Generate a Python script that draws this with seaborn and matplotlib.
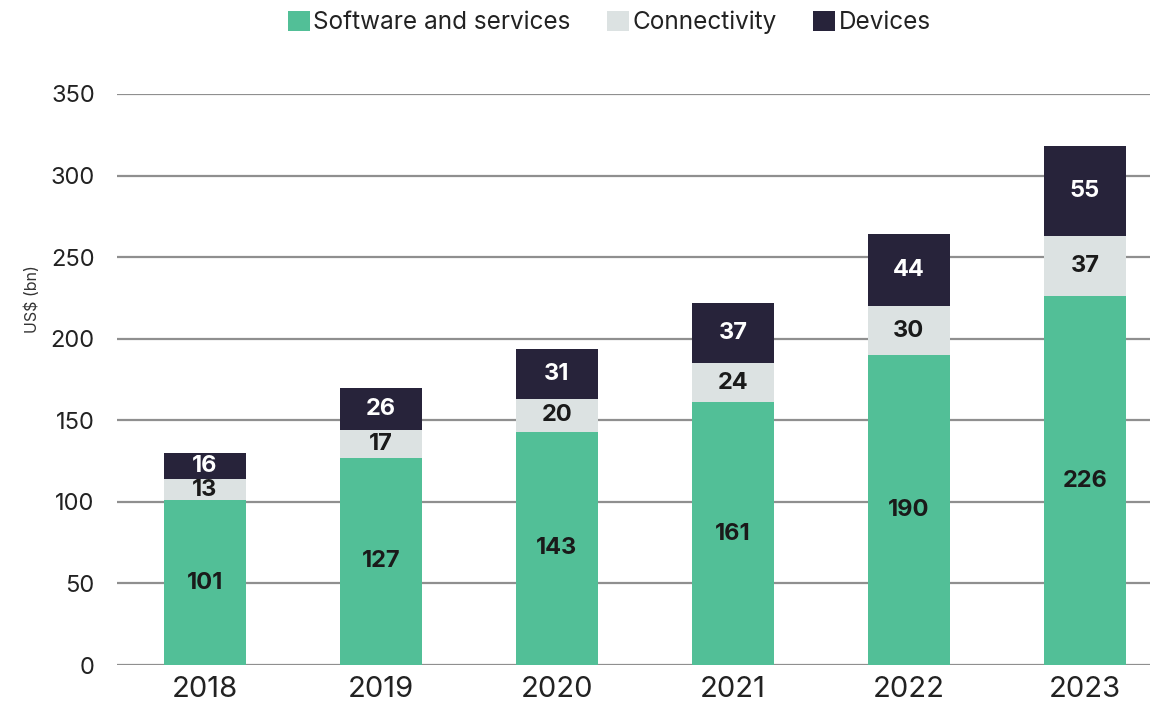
import matplotlib
matplotlib.use("Agg")
import matplotlib.pyplot as plt
import seaborn as sns
import pandas as pd
import numpy as np
from matplotlib.patches import Patch

years = ["2018", "2019", "2020", "2021", "2022", "2023"]
software = [101, 127, 143, 161, 190, 226]
connectivity = [13, 17, 20, 24, 30, 37]
devices = [16, 26, 31, 37, 44, 55]

series_names = ["Software and services", "Connectivity", "Devices"]
colors = {"Software and services": "#52BF97", "Connectivity": "#DCE2E2", "Devices": "#27233A"}
text_colors = {"Software and services": "#1a1a1a", "Connectivity": "#1a1a1a", "Devices": "#ffffff"}

sns.set_theme(style="white")
plt.rcParams["font.family"] = ["Inter", "DejaVu Sans"]

fig = plt.figure(figsize=(11.63, 7.02), dpi=100)
ax = fig.add_axes([117/1163, 1-665/702, (1150-117)/1163, (665-94)/702])

soft = np.array(software)
conn = np.array(connectivity)
dev = np.array(devices)
cum = {
    "Devices": soft + conn + dev,
    "Connectivity": soft + conn,
    "Software and services": soft,
}
values = {"Software and services": soft, "Connectivity": conn, "Devices": dev}
bottoms = {"Software and services": np.zeros(6), "Connectivity": soft, "Devices": soft + conn}

for name in ["Devices", "Connectivity", "Software and services"]:
    df = pd.DataFrame({"year": years, "value": cum[name]})
    sns.barplot(data=df, x="year", y="value", color=colors[name], width=0.465,
                saturation=1, ax=ax, zorder=2, edgecolor="none", linewidth=0)

for name in series_names:
    for i in range(len(years)):
        v = values[name][i]
        ax.text(i, bottoms[name][i] + v / 2, f"{v}", ha="center", va="center",
                fontsize=17, fontweight="bold", color=text_colors[name], zorder=3)

ax.set_ylim(0, 350)
ax.set_xlim(-0.5, 5.37)
ax.set_yticks(range(0, 351, 50))
ax.yaxis.grid(True, color="#8f8f8f", linewidth=1.6, zorder=0)
ax.set_axisbelow(True)
for s in ["top", "right", "left", "bottom"]:
    ax.spines[s].set_visible(False)
ax.tick_params(axis="y", length=0, labelsize=17, pad=16, labelcolor="#222222")
ax.tick_params(axis="x", length=0, labelsize=21, pad=8, labelcolor="#222222")
ax.set_xlabel("")
ax.set_ylabel("US$ (bn)", fontsize=11.5, color="#333333")
ax.yaxis.set_label_coords(-0.075, 0.64)

handles = [Patch(facecolor=colors[n], edgecolor="none", label=n) for n in series_names]
fig.legend(handles=handles, loc="center", bbox_to_anchor=(0.524, 0.968), ncol=3,
           frameon=False, fontsize=17.5, handlelength=0.9, handleheight=0.9,
           handletextpad=0.15, columnspacing=1.5, labelcolor="#222222")

fig.savefig("out.png", dpi=100)
